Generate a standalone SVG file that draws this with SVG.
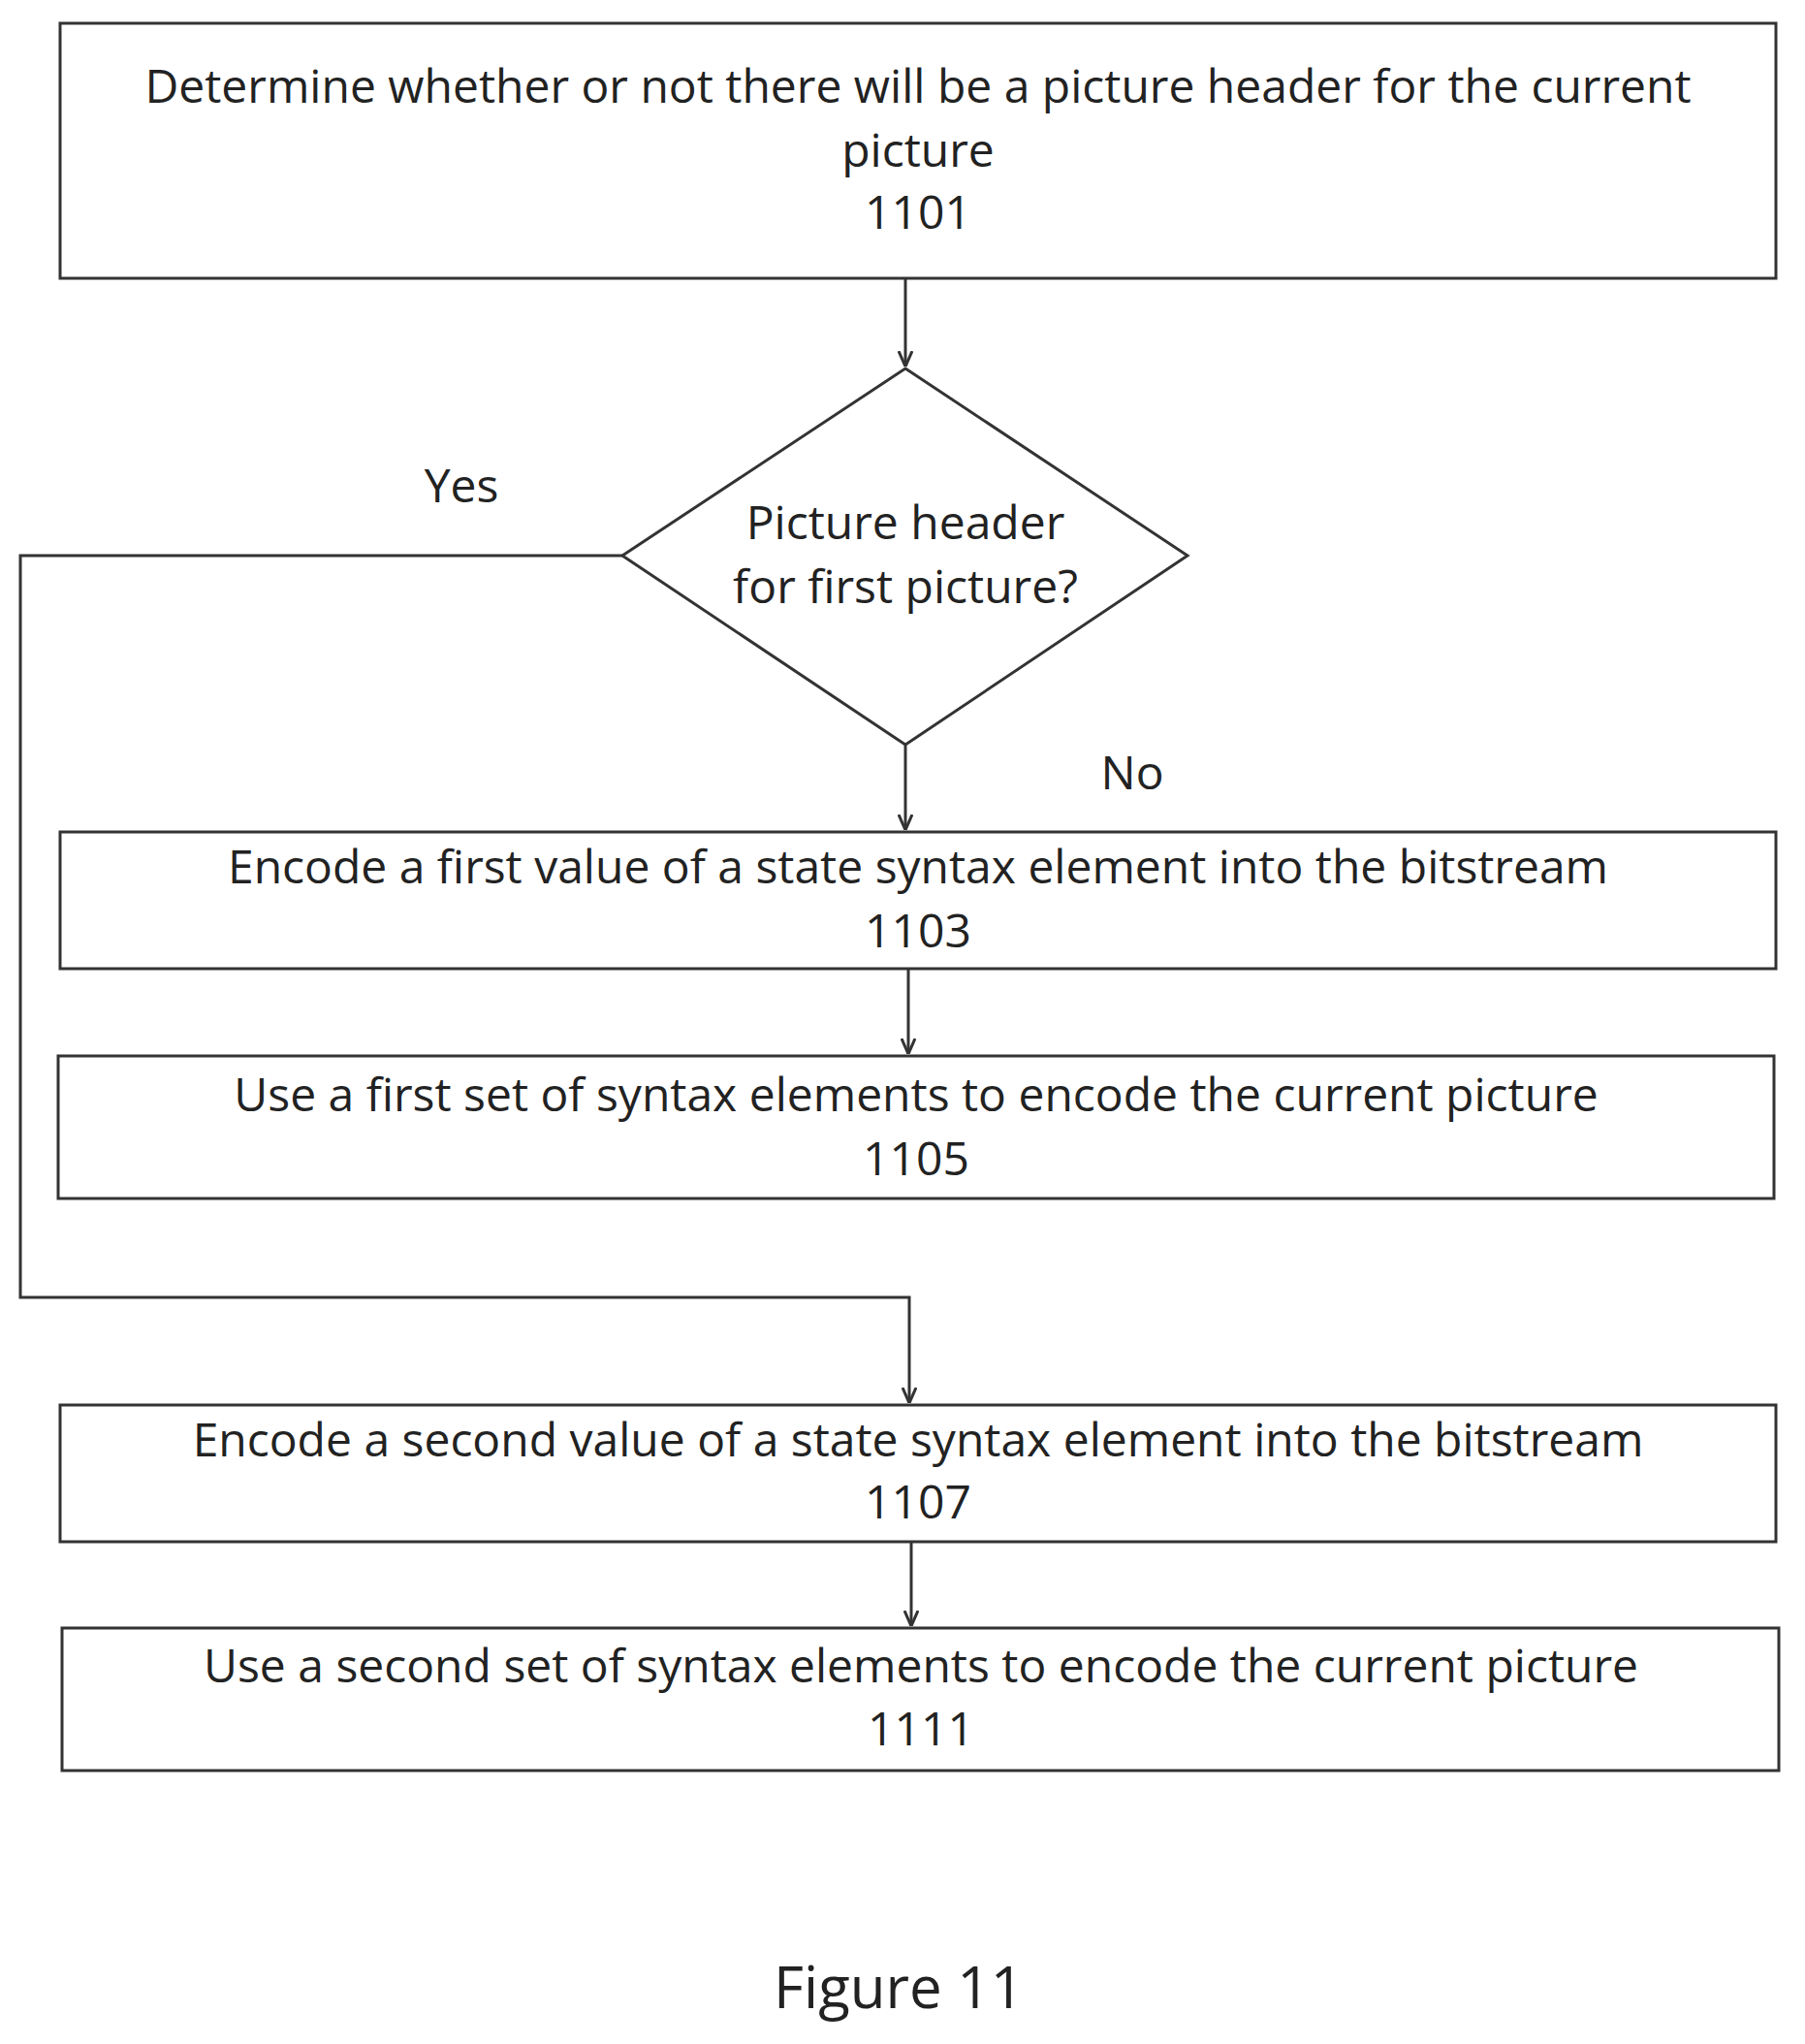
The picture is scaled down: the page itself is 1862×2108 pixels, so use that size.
<svg xmlns="http://www.w3.org/2000/svg" width="1862" height="2108" viewBox="0 0 1862 2108">
<style>
.b{fill:#fff;stroke:#333;stroke-width:3}
.t{font-family:"Open Sans","Liberation Sans",sans-serif;font-size:48px;fill:#222;text-anchor:middle}
.c{fill:none;stroke:#333;stroke-width:3}
</style>
<defs><marker id="a" viewBox="0 0 16 16" refX="16" refY="8" markerWidth="16" markerHeight="16" markerUnits="userSpaceOnUse" orient="auto"><path d="M0,1L16,8L0,15" fill="none" stroke="#333" stroke-width="3"/></marker></defs>
<rect width="1862" height="2108" fill="#fff"/>
<g id="n1101"><rect class="b" x="62" y="24" width="1770" height="263"/>
<text class="t" x="947" y="106">Determine whether or not there will be a picture header for the current</text>
<text class="t" x="947" y="172">picture</text><text class="t" x="947" y="236">1101</text></g>
<g id="d"><polygon class="b" points="934,380 1225,573 934,768 642,573"/>
<text class="t" x="934" y="556">Picture header</text><text class="t" x="934" y="622">for first picture?</text></g>
<g id="n1103"><rect class="b" x="62" y="858" width="1770" height="141"/>
<text class="t" x="947" y="911">Encode a first value of a state syntax element into the bitstream</text><text class="t" x="947" y="977">1103</text></g>
<g id="n1105"><rect class="b" x="60" y="1089" width="1770" height="147"/>
<text class="t" x="945" y="1146">Use a first set of syntax elements to encode the current picture</text><text class="t" x="945" y="1212">1105</text></g>
<g id="n1107"><rect class="b" x="62" y="1449" width="1770" height="141"/>
<text class="t" x="947" y="1502">Encode a second value of a state syntax element into the bitstream</text><text class="t" x="947" y="1566">1107</text></g>
<g id="n1111"><rect class="b" x="64" y="1679" width="1771" height="147"/>
<text class="t" x="950" y="1735">Use a second set of syntax elements to encode the current picture</text><text class="t" x="950" y="1800">1111</text></g>
<g id="connectors">
<line class="c" x1="934" y1="287" x2="934" y2="378" marker-end="url(#a)"/>
<line class="c" x1="934" y1="768" x2="934" y2="856" marker-end="url(#a)"/>
<line class="c" x1="937" y1="999" x2="937" y2="1087" marker-end="url(#a)"/>
<polyline class="c" points="642,573 21,573 21,1338 938,1338 938,1447" marker-end="url(#a)"/>
<line class="c" x1="940" y1="1590" x2="940" y2="1677" marker-end="url(#a)"/>
<text class="t" x="476" y="518">Yes</text>
<text class="t" x="1168" y="814">No</text>
</g>
<text class="t" x="927" y="2071" style="font-size:60px">Figure 11</text>
</svg>
